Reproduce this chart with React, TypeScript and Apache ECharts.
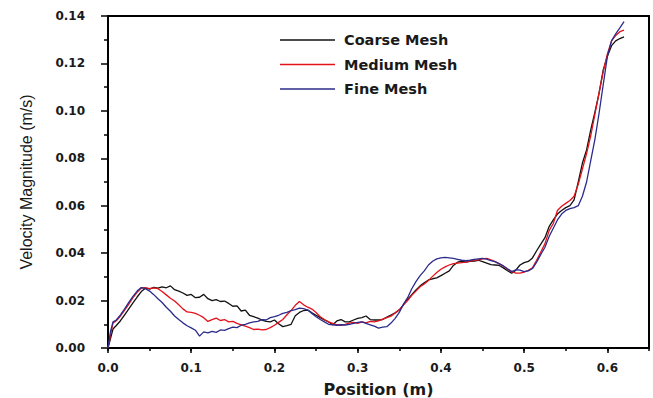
import React, { useEffect, useRef } from "react";
import * as echarts from "echarts";

// Sample positions along the line (m)
const positions = [
  0, 0.003, 0.006, 0.01, 0.015, 0.02, 0.025, 0.03, 0.035, 0.04, 0.045, 0.05, 0.055, 0.06, 0.065, 0.07, 0.075,
  0.08, 0.085, 0.09, 0.095, 0.1, 0.105, 0.11, 0.115, 0.12, 0.125, 0.13, 0.135, 0.14, 0.145, 0.15, 0.155, 0.16,
  0.165, 0.17, 0.175, 0.18, 0.185, 0.19, 0.195, 0.2, 0.205, 0.21, 0.215, 0.22, 0.225, 0.23, 0.235, 0.24, 0.245,
  0.25, 0.255, 0.26, 0.265, 0.27, 0.275, 0.28, 0.285, 0.29, 0.295, 0.3, 0.305, 0.31, 0.315, 0.32, 0.325, 0.33,
  0.335, 0.34, 0.345, 0.35, 0.355, 0.36, 0.365, 0.37, 0.375, 0.38, 0.385, 0.39, 0.395, 0.4, 0.405, 0.41, 0.415,
  0.42, 0.425, 0.43, 0.435, 0.44, 0.445, 0.45, 0.455, 0.46, 0.465, 0.47, 0.475, 0.48, 0.485, 0.49, 0.495, 0.5,
  0.505, 0.51, 0.515, 0.52, 0.525, 0.53, 0.535, 0.54, 0.545, 0.55, 0.555, 0.56, 0.565, 0.57, 0.575, 0.58, 0.585,
  0.59, 0.595, 0.6, 0.605, 0.61, 0.615, 0.62,
];

// Velocity magnitude (m/s) for each mesh
const coarseMesh = [
  0, 0.004, 0.008, 0.0095, 0.0115, 0.014, 0.0165, 0.019, 0.0215, 0.0238, 0.0252, 0.0248, 0.0256, 0.0252, 0.0258,
  0.0254, 0.0262, 0.0246, 0.024, 0.0232, 0.0222, 0.0226, 0.0212, 0.0214, 0.0226, 0.0208, 0.02, 0.0204, 0.0196,
  0.0198, 0.0188, 0.0176, 0.0178, 0.0156, 0.016, 0.0138, 0.0132, 0.0126, 0.0118, 0.0112, 0.011, 0.0118, 0.0102,
  0.009, 0.0094, 0.01, 0.0136, 0.015, 0.0158, 0.016, 0.0148, 0.0138, 0.0128, 0.0118, 0.011, 0.0098, 0.0114, 0.012,
  0.011, 0.011, 0.0118, 0.0125, 0.0128, 0.0135, 0.012, 0.0118, 0.0118, 0.012, 0.013, 0.0139, 0.0148, 0.016,
  0.0182, 0.0205, 0.0225, 0.0245, 0.0262, 0.0275, 0.0287, 0.0292, 0.0296, 0.0305, 0.0315, 0.0325, 0.0348, 0.0362,
  0.0366, 0.0362, 0.0365, 0.0366, 0.037, 0.0364, 0.0358, 0.0352, 0.035, 0.0348, 0.0338, 0.0326, 0.0315, 0.0328,
  0.035, 0.036, 0.0365, 0.038, 0.041, 0.0438, 0.0465, 0.0512, 0.054, 0.0565, 0.058, 0.0592, 0.06, 0.0625, 0.07,
  0.078, 0.0835, 0.092, 0.0995, 0.1075, 0.1173, 0.123, 0.1275, 0.1295, 0.1305, 0.1312,
];

const mediumMesh = [
  0, 0.0055, 0.0105, 0.0115, 0.0135, 0.016, 0.0185, 0.0212, 0.0235, 0.0253, 0.0255, 0.025, 0.0254, 0.025, 0.0238,
  0.0224, 0.021, 0.0198, 0.0182, 0.0165, 0.0152, 0.015, 0.0146, 0.0138, 0.0128, 0.0112, 0.012, 0.0126, 0.0116,
  0.012, 0.011, 0.0112, 0.0104, 0.0098, 0.0092, 0.0086, 0.0078, 0.008, 0.0076, 0.0078, 0.0086, 0.0096, 0.0108,
  0.012, 0.014, 0.0158, 0.018, 0.0196, 0.0182, 0.0172, 0.0164, 0.015, 0.0132, 0.012, 0.011, 0.0104, 0.0098,
  0.0096, 0.01, 0.0105, 0.0108, 0.0104, 0.011, 0.0106, 0.0112, 0.011, 0.0114, 0.0122, 0.0128, 0.0134, 0.0148,
  0.0162, 0.0182, 0.02, 0.0222, 0.024, 0.0258, 0.027, 0.0285, 0.0302, 0.0318, 0.0332, 0.0342, 0.035, 0.0356,
  0.0358, 0.036, 0.0362, 0.0366, 0.037, 0.0372, 0.0376, 0.0378, 0.0372, 0.0364, 0.0355, 0.0346, 0.0332, 0.0322,
  0.0316, 0.0316, 0.032, 0.0328, 0.0338, 0.037, 0.0405, 0.044, 0.0495, 0.0525, 0.058, 0.0598, 0.061, 0.0622,
  0.064, 0.069, 0.0755, 0.082, 0.0895, 0.0985, 0.1075, 0.1165, 0.124, 0.1295, 0.1318, 0.1334, 0.134,
];

const fineMesh = [
  0, 0.007, 0.011, 0.0118, 0.014, 0.0165, 0.0192, 0.0218, 0.024, 0.0255, 0.025, 0.024, 0.0225, 0.0208, 0.0192,
  0.0172, 0.0155, 0.0135, 0.012, 0.0106, 0.0094, 0.0085, 0.0075, 0.005, 0.0068, 0.0064, 0.007, 0.0066, 0.0076,
  0.0074, 0.0082, 0.0088, 0.0086, 0.0096, 0.01, 0.0106, 0.011, 0.0112, 0.012, 0.0118, 0.0128, 0.0132, 0.0138,
  0.0146, 0.015, 0.0158, 0.0162, 0.0168, 0.0166, 0.016, 0.0146, 0.0132, 0.012, 0.011, 0.01, 0.0098, 0.0096,
  0.0098, 0.0097, 0.01, 0.0104, 0.0108, 0.011, 0.0104, 0.0098, 0.0092, 0.0084, 0.0088, 0.009, 0.0105, 0.0125,
  0.015, 0.0185, 0.0212, 0.025, 0.028, 0.0305, 0.0325, 0.035, 0.0366, 0.0376, 0.038, 0.0382, 0.038, 0.0378,
  0.0374, 0.037, 0.0368, 0.037, 0.0374, 0.0376, 0.0378, 0.0375, 0.0368, 0.0364, 0.0356, 0.0346, 0.0334, 0.0322,
  0.033, 0.0328, 0.0322, 0.0325, 0.0335, 0.0362, 0.0395, 0.0425, 0.047, 0.0505, 0.054, 0.0565, 0.058, 0.0588,
  0.0592, 0.06, 0.064, 0.07, 0.079, 0.088, 0.099, 0.111, 0.123, 0.1295, 0.1325, 0.135, 0.1376,
];

const seriesNames = ["Coarse Mesh", "Medium Mesh", "Fine Mesh"];
const seriesValues = [coarseMesh, mediumMesh, fineMesh];
const seriesColors = ["#111111", "#e3121b", "#2b2b8c"];

const INK = "#1a1a1a";

export default function App() {
  const ref = useRef<HTMLDivElement>(null);

  useEffect(() => {
    if (!ref.current) return;
    const chart = echarts.init(ref.current, null, { renderer: "svg" });

    const series = seriesNames.map((name, i) => ({
      name,
      type: "line",
      xAxisIndex: 0,
      yAxisIndex: 0,
      showSymbol: false,
      symbol: "none",
      data: positions.map((x, j) => [x, seriesValues[i][j]]),
      lineStyle: { color: seriesColors[i], width: 1.3 },
      itemStyle: { color: seriesColors[i] },
      z: 3 + i,
    }));

    chart.setOption({
      animation: false,
      backgroundColor: "#ffffff",
      grid: {
        left: 108,
        right: 4,
        top: 16,
        bottom: 50,
        outerBoundsMode: "none",
        containLabel: false,
        show: true,
        borderColor: "#000",
        borderWidth: 2,
      },
      legend: {
        orient: "vertical",
        left: 280,
        top: 32,
        padding: 0,
        icon: "rect",
        itemWidth: 55,
        itemHeight: 1.5,
        itemGap: 8.5,
        data: seriesNames,
        textStyle: {
          fontFamily: "DejaVu Sans",
          fontWeight: "bold",
          fontSize: 14.5,
          color: INK,
          lineHeight: 16,
          padding: [0, 0, 0, 4],
        },
      },
      xAxis: [
        {
          type: "value",
          min: 0,
          max: 0.65,
          interval: 0.1,
          position: "bottom",
          name: "Position (m)",
          nameLocation: "middle",
          nameGap: 33,
          nameTextStyle: {
            fontFamily: "DejaVu Sans",
            fontWeight: "bold",
            fontSize: 16,
            lineHeight: 16,
            color: INK,
          },
          axisLine: { show: true, onZero: false, lineStyle: { color: "#000", width: 2 } },
          axisTick: { show: true, inside: false, length: 5, lineStyle: { color: "#000", width: 1.5 } },
          axisLabel: {
            margin: 14,
            showMaxLabel: false,
            fontFamily: "DejaVu Sans",
            fontWeight: "bold",
            fontSize: 12,
            color: INK,
            formatter: (v: number) => v.toFixed(1),
          },
          splitLine: { show: false },
        },
        {
          type: "value",
          min: 0,
          max: 0.65,
          interval: 0.05,
          position: "bottom",
          axisLine: { show: false, onZero: false },
          axisTick: { show: true, inside: false, length: 3, lineStyle: { color: "#000", width: 1.5 } },
          axisLabel: { show: false },
          splitLine: { show: false },
        },
      ],
      yAxis: {
        type: "value",
        min: 0,
        max: 0.14,
        interval: 0.02,
        name: "Velocity Magnitude (m/s)",
        nameLocation: "middle",
        nameGap: 74,
        nameTextStyle: {
          fontFamily: "Liberation Sans",
          fontSize: 16,
          color: INK,
        },
        axisLine: { show: true, onZero: false, lineStyle: { color: "#000", width: 2 } },
        axisTick: { show: true, inside: false, length: 7, lineStyle: { color: "#000", width: 1.5 } },
        minorTick: { show: true, splitNumber: 2, length: 4, lineStyle: { color: "#000", width: 1.5 } },
        axisLabel: {
          margin: 23,
          fontFamily: "DejaVu Sans",
          fontWeight: "bold",
          fontSize: 12,
          color: INK,
          formatter: (v: number) => v.toFixed(2),
        },
        splitLine: { show: false },
      },
      series,
    });

    return () => chart.dispose();
  }, []);

  return <div ref={ref} style={{ width: 653, height: 398, position: "absolute", left: 0, top: 0 }} />;
}
